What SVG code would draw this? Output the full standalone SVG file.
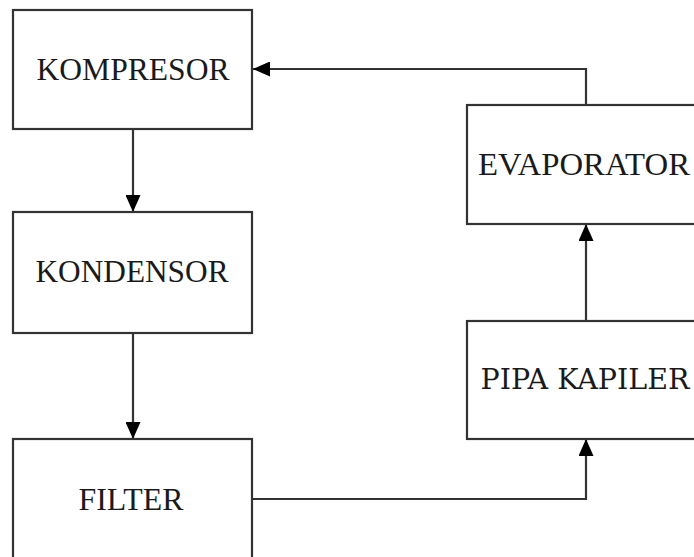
<svg xmlns="http://www.w3.org/2000/svg" width="694" height="557" viewBox="0 0 694 557">
<defs>
<style>
.box{fill:#fff;stroke:#333;stroke-width:2.2}
.lbl{font-family:"Liberation Serif","Times New Roman",serif;font-size:32px;fill:#1a1a1a;text-anchor:middle}
.slab{font-family:"DejaVu Serif","Liberation Serif",serif;font-size:27px;fill:#1a1a1a;text-anchor:middle}
.conn{fill:none;stroke:#333;stroke-width:2.2}
</style>
<marker id="arr" viewBox="0 0 17 15" refX="17" refY="7.5" markerWidth="17" markerHeight="15" markerUnits="userSpaceOnUse" orient="auto">
<path d="M0,0 L17,7.5 L0,15 Z" fill="#000"/>
</marker>
</defs>
<rect width="694" height="557" fill="#fff"/>
<g id="connectors">
<path class="conn" d="M586,105 V69 H253" marker-end="url(#arr)"/>
<path class="conn" d="M133,129 V212" marker-end="url(#arr)"/>
<path class="conn" d="M133,333 V439" marker-end="url(#arr)"/>
<path class="conn" d="M252,499 H586 V439" marker-end="url(#arr)"/>
<path class="conn" d="M586,321 V224" marker-end="url(#arr)"/>
</g>
<g id="kompresor">
<rect class="box" x="13" y="10" width="239" height="119"/>
<text class="lbl" x="133" y="80" textLength="193" lengthAdjust="spacingAndGlyphs">KOMPRESOR</text>
</g>
<g id="kondensor">
<rect class="box" x="13" y="212" width="239" height="121"/>
<text class="lbl" x="132" y="282" textLength="193" lengthAdjust="spacingAndGlyphs">KONDENSOR</text>
</g>
<g id="filter">
<rect class="box" x="13" y="439" width="239" height="130"/>
<text class="lbl" x="131" y="510" textLength="105" lengthAdjust="spacingAndGlyphs">FILTER</text>
</g>
<g id="evaporator">
<rect class="box" x="467" y="105" width="240" height="119"/>
<text class="lbl" x="584" y="175" textLength="212" lengthAdjust="spacingAndGlyphs">EVAPORATOR</text>
</g>
<g id="pipa-kapiler">
<rect class="box" x="467" y="321" width="240" height="118"/>
<text class="slab" x="585" y="389" textLength="209" lengthAdjust="spacingAndGlyphs">PIPA KAPILER</text>
</g>
</svg>
